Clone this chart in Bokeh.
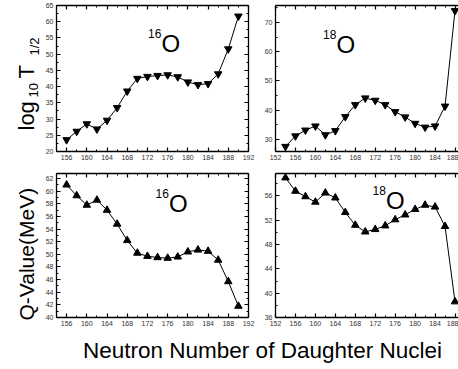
import math
from bokeh.plotting import figure
from bokeh.models import Label, LinearAxis, FixedTicker, Range1d
from bokeh.layouts import column, row
from bokeh.embed import file_html
from bokeh.resources import INLINE

FONT = "Liberation Sans"

# ---- data ----
n_16 = [156, 158, 160, 162, 164, 166, 168, 170, 172, 174, 176, 178, 180, 182, 184, 186, 188, 190]
logt_16 = [23.6, 26.2, 28.5, 26.9, 29.6, 33.5, 38.6, 42.5, 43.1, 43.4, 43.6, 43.0, 41.4, 40.6, 40.9, 43.9, 51.6, 61.7]
q_16 = [61.0, 59.3, 57.8, 58.6, 57.0, 54.8, 52.2, 50.2, 49.7, 49.5, 49.4, 49.6, 50.4, 50.7, 50.5, 49.1, 45.7, 41.8]

n_18 = [154, 156, 158, 160, 162, 164, 166, 168, 170, 172, 174, 176, 178, 180, 182, 184, 186, 188]
logt_18 = [27.5, 31.1, 33.1, 34.5, 31.5, 32.9, 37.7, 41.8, 44.1, 43.3, 41.8, 39.4, 37.6, 35.4, 34.1, 34.5, 41.3, 74.0]
q_18 = [59.0, 56.8, 55.9, 55.0, 56.5, 55.7, 53.3, 51.2, 50.1, 50.5, 51.1, 52.1, 52.9, 53.8, 54.5, 54.2, 51.0, 38.6]

xticks_16 = [156, 160, 164, 168, 172, 176, 180, 184, 188, 192]
xticks_18 = [152, 156, 160, 164, 168, 172, 176, 180, 184, 188, 192]
yticks_tl = [20, 25, 30, 35, 40, 45, 50, 55, 60, 65]
yticks_tr = [30, 40, 50, 60, 70]
yticks_bl = [40, 42, 44, 46, 48, 50, 52, 54, 56, 58, 60, 62]
yticks_br = [36, 40, 44, 48, 52, 56]


def minors(ticks):
    step = ticks[1] - ticks[0]
    return [t + step / 2 for t in [ticks[0] - step] + ticks]


def style_axis(ax, ticks, labels=True):
    ax.ticker = FixedTicker(ticks=ticks, minor_ticks=minors(ticks))
    ax.major_tick_in = 4
    ax.major_tick_out = 0
    ax.minor_tick_in = 2
    ax.minor_tick_out = 0
    ax.axis_line_color = "black"
    ax.axis_line_width = 1.3
    ax.major_tick_line_color = "black"
    ax.major_tick_line_width = 1.2
    ax.minor_tick_line_color = "black"
    ax.minor_tick_line_width = 1
    ax.axis_label = None
    if labels:
        ax.major_label_text_font = FONT
        ax.major_label_text_font_size = "7px"
        ax.major_label_text_color = "#333333"
        ax.major_label_standoff = 3
    else:
        ax.major_label_text_font_size = "0px"
        ax.major_label_text_color = None
        ax.major_label_standoff = 0


def panel(w, h, xr, yr, xt, yt, lb, rb, tb, bb, right_axis):
    p = figure(width=w, height=h, x_range=Range1d(*xr), y_range=Range1d(*yr),
               output_backend="svg", toolbar_location=None,
               min_border_left=lb, min_border_right=rb,
               min_border_top=tb, min_border_bottom=bb)
    p.grid.visible = False
    p.outline_line_color = None
    p.background_fill_color = "white"
    style_axis(p.xaxis[0], xt)
    style_axis(p.yaxis[0], yt)
    top = LinearAxis()
    style_axis(top, xt, labels=False)
    p.add_layout(top, "above")
    if right_axis:
        rgt = LinearAxis()
        style_axis(rgt, yt, labels=False)
        p.add_layout(rgt, "right")
    return p


def blank(w, h):
    p = figure(width=w, height=h, output_backend="svg", toolbar_location=None,
               x_axis_location=None, y_axis_location=None,
               min_border_left=0, min_border_right=0, min_border_top=0, min_border_bottom=0)
    p.grid.visible = False
    p.outline_line_color = None
    return p


def text_label(p, x, y, text, size, **kw):
    # y is the intended baseline (screen px from frame bottom)
    p.add_layout(Label(x=x, y=y + 0.3 * size, x_units="screen", y_units="screen", text=text,
                       text_font=FONT, text_font_size=f"{size}px", text_color="black",
                       text_baseline="alphabetic", **kw))


def sup_label(p, x, y, mass):
    text_label(p, x, y, mass, 12)
    text_label(p, x + 13.5, y - 13, "O", 24)


def rot_label(p, x, y, text, size):
    # x is the intended baseline position (screen px from frame left)
    p.add_layout(Label(x=x - 0.33 * size, y=y, x_units="screen", y_units="screen", text=text,
                       angle=math.pi / 2, text_font=FONT, text_font_size=f"{size}px",
                       text_color="black", text_baseline="alphabetic", text_align="left"))


# ---- y-axis titles (one tall strip at the left) ----
yl = blank(42, 331)
rot_label(yl, 33, 201, "log", 22)
rot_label(yl, 37, 234, "10", 13)
rot_label(yl, 33, 253, "T", 22)
rot_label(yl, 38, 276, "1/2", 13)
rot_label(yl, 33, 11, "Q-Value(MeV)", 21)

# ---- top row ----
tl = panel(219, 166, (154, 192), (20, 65), xticks_16, yticks_tl, 14, 13, 5, 15, True)
tl.line(n_16, logt_16, line_color="black", line_width=1)
tl.scatter(n_16, logt_16, marker="inverted_triangle", size=7.5, color="black")
sup_label(tl, 91.5, 114, "16")

tr = panel(197, 166, (152, 188.7), (25.8, 75.8), xticks_18, yticks_tr, 13, 0, 5, 15, False)
tr.line(n_18, logt_18, line_color="black", line_width=1)
tr.scatter(n_18, logt_18, marker="inverted_triangle", size=7.5, color="black")
sup_label(tr, 47.5, 113, "18")

# ---- bottom row ----
bl = panel(219, 165, (154, 192), (40, 62.8), xticks_16, yticks_bl, 14, 13, 7, 14, True)
bl.line(n_16, q_16, line_color="black", line_width=1)
bl.scatter(n_16, q_16, marker="triangle", size=7.5, color="black")
sup_label(bl, 99, 120, "16")

br = panel(197, 165, (152, 188.7), (36, 59.7), xticks_18, yticks_br, 13, 0, 7, 14, False)
br.line(n_18, q_18, line_color="black", line_width=1)
br.scatter(n_18, q_18, marker="triangle", size=7.5, color="black")
sup_label(br, 97, 123, "18")

# ---- common x label ----
xl = blank(458, 38)
text_label(xl, 262, 12, "Neutron Number of Daughter Nuclei", 22.5, text_align="center")

layout = column(row(yl, column(row(tl, tr), row(bl, br))), xl)

open("out.html", "w").write(file_html(layout, INLINE))
